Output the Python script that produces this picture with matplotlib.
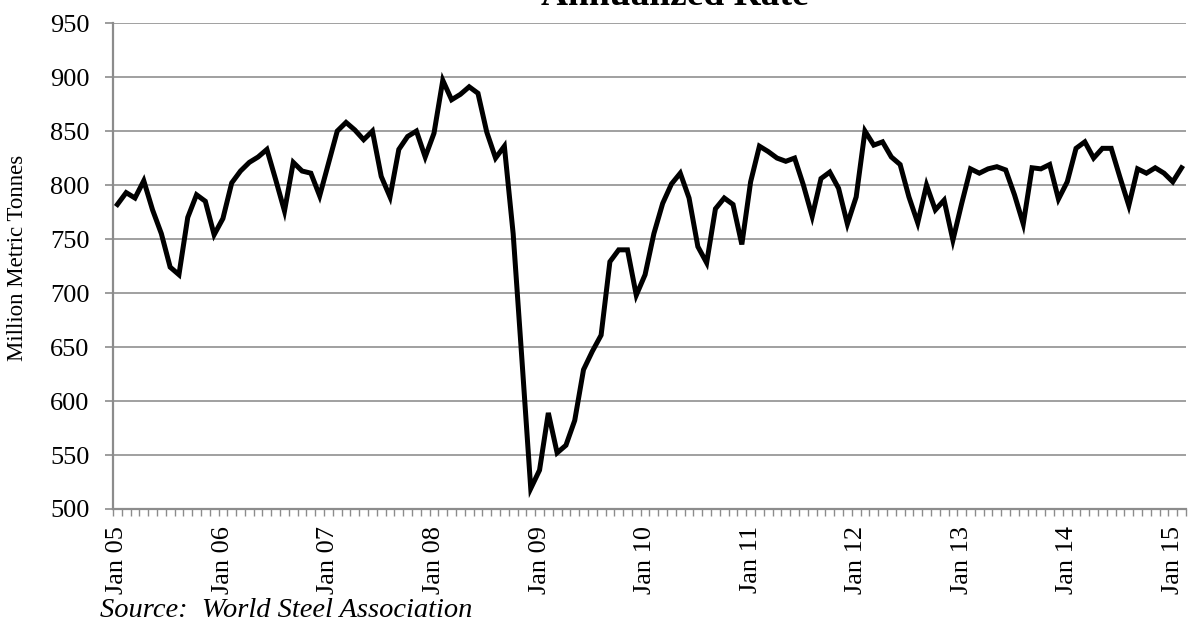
import matplotlib
matplotlib.use("Agg")
import matplotlib.pyplot as plt
from matplotlib.ticker import FixedLocator, MultipleLocator

# monthly series, Jan 2005 .. Feb 2015 (million metric tonnes, annualized)
vals_2005 = [782, 793, 788, 804, 777, 755, 724, 717, 770, 791, 785, 754]
vals_2006 = [769, 802, 813, 821, 826, 833, 805, 776, 821, 813, 811, 790]
vals_2007 = [820, 850, 858, 851, 842, 850, 808, 789, 833, 845, 850, 826]
vals_2008 = [848, 897, 879, 884, 891, 885, 849, 825, 836, 755, 638, 519]
vals_2009 = [536, 589, 552, 559, 582, 629, 646, 661, 729, 740, 740, 698]
vals_2010 = [717, 755, 783, 801, 811, 788, 743, 728, 778, 788, 782, 745]
vals_2011 = [803, 836, 831, 825, 822, 825, 800, 771, 806, 812, 797, 764]
vals_2012 = [789, 850, 837, 840, 826, 819, 789, 765, 800, 777, 786, 749]
vals_2013 = [783, 815, 811, 815, 817, 814, 791, 764, 816, 815, 819, 787]
vals_2014 = [803, 834, 840, 825, 834, 834, 807, 781, 815, 811, 816, 811]
vals_2015 = [803, 816]

years = ["05", "06", "07", "08", "09", "10", "11", "12", "13", "14", "15"]
tick_labels = ["Jan " + y for y in years]

values = (vals_2005 + vals_2006 + vals_2007 + vals_2008 + vals_2009 + vals_2010
          + vals_2011 + vals_2012 + vals_2013 + vals_2014 + vals_2015)
months = list(range(len(values)))

plt.rcParams["font.family"] = ["Liberation Serif", "DejaVu Serif"]

fig = plt.figure(figsize=(11.88, 6.24), dpi=100)
ax = fig.add_axes([0.0951, 0.1843, 0.9032, 0.7787])

grey = "#8c8c8c"
ax.plot(months, values, color="black", linewidth=3.6, solid_joinstyle="miter")

ax.set_ylim(500, 950)
ax.set_xlim(-0.5, len(values) - 0.5)
ax.yaxis.set_major_locator(MultipleLocator(50))
ax.grid(axis="y", color="#a0a0a0", linewidth=1.4)
ax.set_axisbelow(True)

# year labels on each January, month ticks between categories
ax.set_xticks([12 * i for i in range(len(years))])
ax.set_xticklabels(tick_labels, rotation=90, fontsize=19)
ax.tick_params(axis="x", which="major", length=0, pad=12)
ax.xaxis.set_minor_locator(FixedLocator([m - 0.5 for m in range(len(values) + 1)]))
ax.tick_params(axis="x", which="minor", length=5, width=1, color=grey)
ax.tick_params(axis="y", length=6, width=1.2, color=grey, labelsize=19, pad=11)

for side in ["top", "right"]:
    ax.spines[side].set_visible(False)
for side in ["left", "bottom"]:
    ax.spines[side].set_color(grey)
    ax.spines[side].set_linewidth(1.6)

ax.set_ylabel("Million Metric Tonnes", fontsize=16.5)
ax.yaxis.set_label_coords(-0.079, 0.516)

fig.text(0.568, 1 - 5 / 624, "Annualized Rate", ha="center", va="baseline",
         fontsize=27, fontweight="bold")
fig.text(0.084, 1 - 617 / 624, "Source:  World Steel Association", ha="left",
         va="baseline", fontsize=20.5, style="italic")

fig.savefig("out.png", dpi=100)
